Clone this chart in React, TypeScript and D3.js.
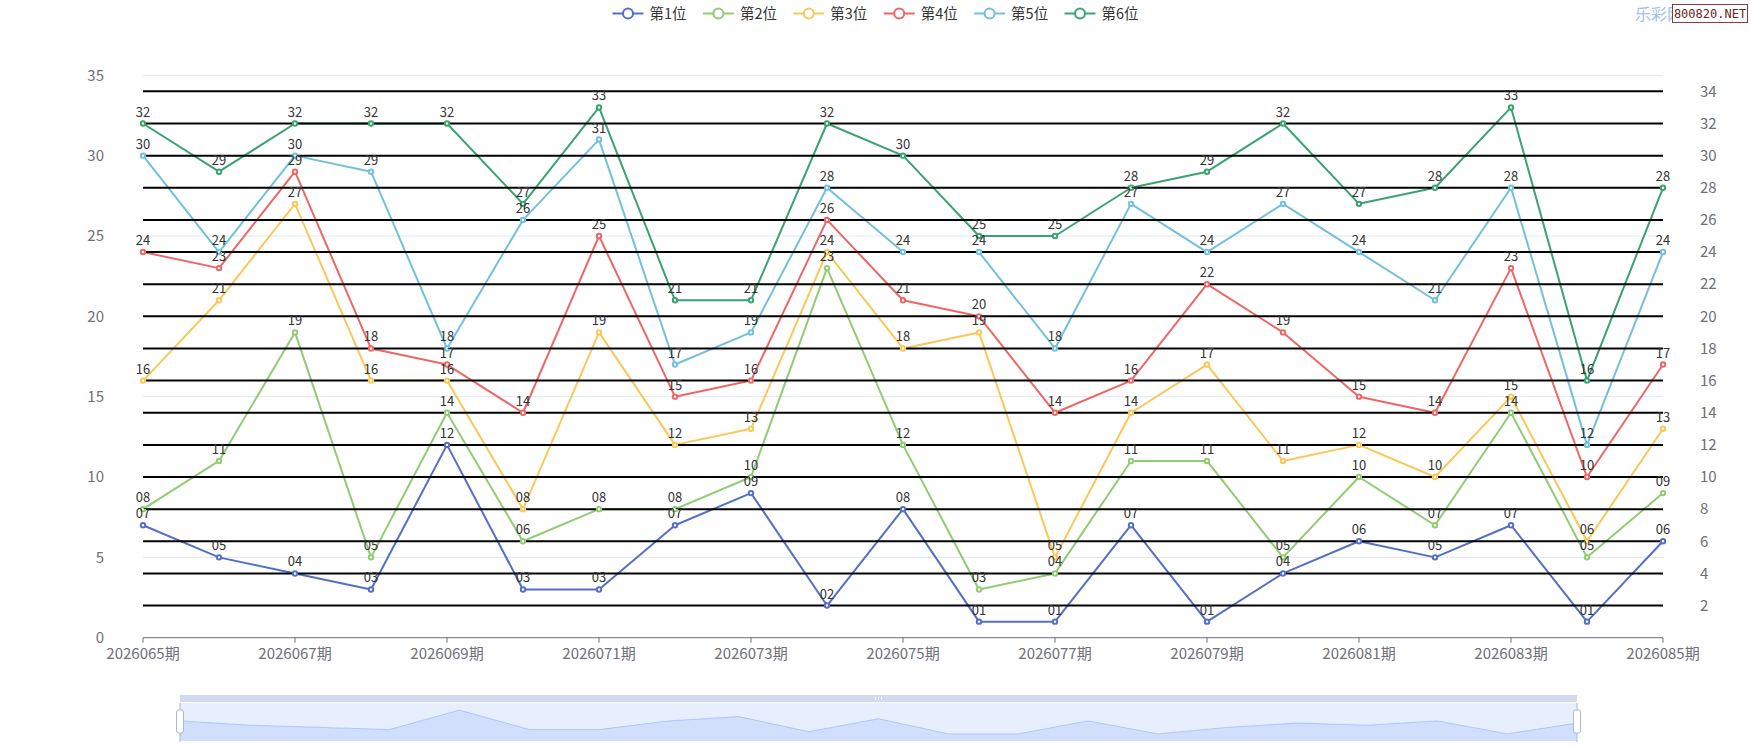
import React, { useEffect, useRef } from 'react';
import * as d3 from 'd3';

const periods = [
  '2026065期', '2026066期', '2026067期', '2026068期', '2026069期', '2026070期', '2026071期',
  '2026072期', '2026073期', '2026074期', '2026075期', '2026076期', '2026077期', '2026078期',
  '2026079期', '2026080期', '2026081期', '2026082期', '2026083期', '2026084期', '2026085期',
];

const seriesNames = ['第1位', '第2位', '第3位', '第4位', '第5位', '第6位'];
const seriesColors = ['#5470c6', '#91cc75', '#fac858', '#ee6666', '#73c0de', '#3ba272'];

const pos1 = [7, 5, 4, 3, 12, 3, 3, 7, 9, 2, 8, 1, 1, 7, 1, 4, 6, 5, 7, 1, 6];
const pos2 = [8, 11, 19, 5, 14, 6, 8, 8, 10, 23, 12, 3, 4, 11, 11, 5, 10, 7, 14, 5, 9];
const pos3 = [16, 21, 27, 16, 16, 8, 19, 12, 13, 24, 18, 19, 5, 14, 17, 11, 12, 10, 15, 6, 13];
const pos4 = [24, 23, 29, 18, 17, 14, 25, 15, 16, 26, 21, 20, 14, 16, 22, 19, 15, 14, 23, 10, 17];
const pos5 = [30, 24, 30, 29, 18, 26, 31, 17, 19, 28, 24, 24, 18, 27, 24, 27, 24, 21, 28, 12, 24];
const pos6 = [32, 29, 32, 32, 32, 27, 33, 21, 21, 32, 30, 25, 25, 28, 29, 32, 27, 28, 33, 16, 28];

const allSeries = [pos1, pos2, pos3, pos4, pos5, pos6];

const leftTicks = [0, 5, 10, 15, 20, 25, 30, 35];
const rightTicks = [2, 4, 6, 8, 10, 12, 14, 16, 18, 20, 22, 24, 26, 28, 30, 32, 34];

const W = 1750;
const H = 750;
const FONT = '"Noto Sans CJK SC", "Noto Sans", sans-serif';

const App = () => {
  const svgRef = useRef<SVGSVGElement>(null);

  useEffect(() => {
    if (!svgRef.current) return;
    const svg = d3.select(svgRef.current);
    svg.selectAll('*').remove();

    const x = d3.scalePoint<string>().domain(periods).range([143, 1663]);
    const y = d3.scaleLinear().domain([0, 35]).range([637.7, 75.3]);

    // light split lines of the left axis
    svg.append('g')
      .selectAll('line')
      .data(leftTicks.filter(t => t > 0))
      .enter().append('line')
      .attr('x1', 143).attr('x2', 1663)
      .attr('y1', d => y(d)).attr('y2', d => y(d))
      .attr('stroke', '#e0e6f1').attr('stroke-width', 1);

    // left axis labels
    svg.append('g')
      .selectAll('text')
      .data(leftTicks)
      .enter().append('text')
      .attr('x', 104).attr('y', d => y(d))
      .attr('dy', '0.35em')
      .attr('text-anchor', 'end')
      .style('font-family', FONT).style('font-size', '15px')
      .attr('fill', '#6e7079')
      .text(d => d);

    // x axis
    const xAxis = svg.append('g');
    xAxis.append('line')
      .attr('x1', 143).attr('x2', 1663)
      .attr('y1', y(0)).attr('y2', y(0))
      .attr('stroke', '#6e7079').attr('stroke-width', 1);
    const shown = periods.filter((_, i) => i % 2 === 0);
    xAxis.selectAll('line.tick')
      .data(shown)
      .enter().append('line')
      .attr('class', 'tick')
      .attr('x1', d => x(d)!).attr('x2', d => x(d)!)
      .attr('y1', y(0)).attr('y2', y(0) + 5)
      .attr('stroke', '#6e7079');
    xAxis.selectAll('text')
      .data(shown)
      .enter().append('text')
      .attr('x', d => x(d)!).attr('y', y(0) + 16)
      .attr('dy', '0.35em')
      .attr('text-anchor', 'middle')
      .style('font-family', FONT).style('font-size', '15px')
      .attr('fill', '#6e7079')
      .text(d => d);

    const line = d3.line<number>()
      .x((_, i) => x(periods[i])!)
      .y(d => y(d));

    // series lines
    svg.append('g')
      .selectAll('path')
      .data(allSeries)
      .enter().append('path')
      .attr('d', d => line(d))
      .attr('fill', 'none')
      .attr('stroke', (_, i) => seriesColors[i])
      .attr('stroke-width', 2)
      .attr('stroke-linejoin', 'round');

    // black lines of the right axis
    svg.append('g')
      .selectAll('line')
      .data(rightTicks)
      .enter().append('line')
      .attr('x1', 143).attr('x2', 1663)
      .attr('y1', d => y(d)).attr('y2', d => y(d))
      .attr('stroke', '#000').attr('stroke-width', 2);

    svg.append('g')
      .selectAll('text')
      .data(rightTicks)
      .enter().append('text')
      .attr('x', 1700).attr('y', d => y(d))
      .attr('dy', '0.35em')
      .style('font-family', FONT).style('font-size', '15px')
      .attr('fill', '#6e7079')
      .text(d => d);

    // symbols
    allSeries.forEach((s, si) => {
      svg.append('g')
        .selectAll('circle')
        .data(s)
        .enter().append('circle')
        .attr('cx', (_, i) => x(periods[i])!)
        .attr('cy', d => y(d))
        .attr('r', 2.2)
        .attr('fill', '#fff')
        .attr('stroke', seriesColors[si])
        .attr('stroke-width', 2);
    });

    // value labels
    const fmt = d3.format('02d');
    allSeries.forEach(s => {
      svg.append('g')
        .selectAll('text')
        .data(s)
        .enter().append('text')
        .attr('x', (_, i) => x(periods[i])!)
        .attr('y', d => y(d) - 7)
        .attr('text-anchor', 'middle')
        .style('font-family', FONT).style('font-size', '13px')
        .attr('fill', '#333')
        .text(d => fmt(d));
    });

    // legend
    const legend = svg.append('g');
    const item = legend.selectAll('g')
      .data(seriesNames)
      .enter().append('g')
      .attr('transform', (_, i) => `translate(${612.5 + i * 90.4}, 13.5)`);
    item.append('line')
      .attr('x1', 0).attr('x2', 31).attr('y1', 0).attr('y2', 0)
      .attr('stroke', (_, i) => seriesColors[i]).attr('stroke-width', 2);
    item.append('circle')
      .attr('cx', 15.5).attr('cy', 0).attr('r', 5)
      .attr('fill', '#fff')
      .attr('stroke', (_, i) => seriesColors[i]).attr('stroke-width', 2);
    item.append('text')
      .attr('x', 37).attr('y', 0).attr('dy', '0.35em')
      .style('font-family', FONT).style('font-size', '14.5px')
      .attr('fill', '#333')
      .text(d => d);

    // dataZoom slider
    const zx0 = 180, zx1 = 1577, zy0 = 703, zy1 = 741;
    const zoom = svg.append('g');
    zoom.append('rect')
      .attr('x', zx0).attr('y', 695).attr('width', zx1 - zx0).attr('height', 7)
      .attr('fill', '#d2dbee');
    [-3, 0, 3].forEach(o => {
      zoom.append('line')
        .attr('x1', (zx0 + zx1) / 2 + o).attr('x2', (zx0 + zx1) / 2 + o)
        .attr('y1', 697).attr('y2', 700)
        .attr('stroke', '#fff').attr('stroke-width', 1);
    });
    const sx = d3.scalePoint<string>().domain(periods).range([zx0, zx1]);
    const ext = d3.extent(pos1) as [number, number];
    const off = (ext[1] - ext[0]) * 0.3;
    const sy = d3.scaleLinear().domain([ext[0] - off, ext[1] + off]).range([zy1, zy0]);
    zoom.append('rect')
      .attr('x', zx0).attr('y', zy0).attr('width', zx1 - zx0).attr('height', zy1 - zy0)
      .attr('fill', 'rgba(135,175,255,0.2)');
    const area = d3.area<number>()
      .x((_, i) => sx(periods[i])!)
      .y0(zy1)
      .y1(d => sy(d));
    zoom.append('path')
      .attr('d', area(pos1))
      .attr('fill', '#8fb0f7').attr('fill-opacity', 0.25);
    zoom.append('path')
      .attr('d', d3.line<number>().x((_, i) => sx(periods[i])!).y(d => sy(d))(pos1))
      .attr('fill', 'none').attr('stroke', '#8fb0f7').attr('stroke-width', 0.6);
    [zx0, zx1].forEach(hx => {
      zoom.append('line')
        .attr('x1', hx).attr('x2', hx).attr('y1', zy0).attr('y2', zy1 + 1)
        .attr('stroke', '#acb8d1').attr('stroke-width', 1);
      zoom.append('rect')
        .attr('x', hx - 3.5).attr('y', 710).attr('width', 7).attr('height', 23)
        .attr('rx', 2)
        .attr('fill', '#fff').attr('stroke', '#acb8d1').attr('stroke-width', 1);
    });

    // watermark
    svg.append('text')
      .attr('x', 1635).attr('y', 14).attr('dy', '0.35em')
      .style('font-family', FONT).style('font-size', '16px')
      .attr('fill', '#9fc2e6')
      .text('乐彩网');
    svg.append('rect')
      .attr('x', 1672.5).attr('y', 4.5).attr('width', 75).attr('height', 18)
      .attr('fill', '#fff').attr('stroke', '#8a3b3b').attr('stroke-width', 1);
    svg.append('text')
      .attr('x', 1710).attr('y', 14).attr('dy', '0.35em')
      .attr('text-anchor', 'middle')
      .style('font-family', '"DejaVu Sans Mono", monospace').style('font-size', '12px')
      .attr('fill', '#6b1f1f')
      .text('800820.NET');
  }, []);

  return (
    <div style={{ position: 'absolute', left: 0, top: 0, width: W, height: H, background: '#fff' }}>
      <svg ref={svgRef} width={W} height={H} style={{ display: 'block' }}></svg>
    </div>
  );
};

export default App;
